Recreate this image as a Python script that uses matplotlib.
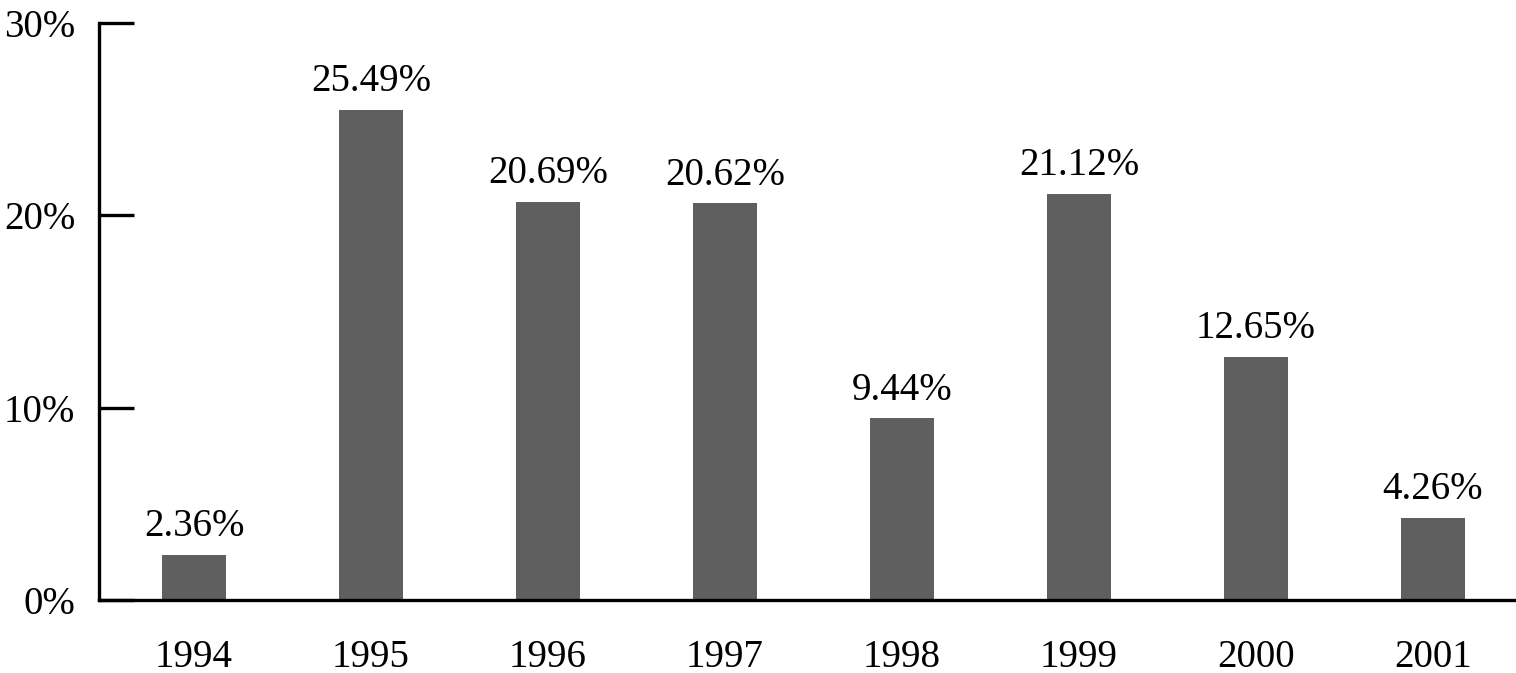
import matplotlib
matplotlib.use('Agg')
import matplotlib.pyplot as plt
from matplotlib.ticker import FuncFormatter

years = ['1994', '1995', '1996', '1997', '1998', '1999', '2000', '2001']
values = [2.36, 25.49, 20.69, 20.62, 9.44, 21.12, 12.65, 4.26]

plt.rcParams['font.family'] = ['Liberation Serif', 'DejaVu Serif']
FS = 28

fig = plt.figure(figsize=(15.16, 6.73), dpi=100)
ax = fig.add_axes([99 / 1516, 1 - 600 / 673, 1 - 99 / 1516, (600 - 23) / 673])

x = list(range(len(years)))
ax.bar(x, values, width=0.36, color='#5f5f5f', zorder=2)

# value labels above the bars
for xi, v in zip(x, values):
    ax.annotate(f'{v:.2f}%', (xi, v), xytext=(0, 7), textcoords='offset points',
                ha='center', va='bottom', fontsize=FS)

ax.set_xlim(-0.537, 7.47)
ax.set_ylim(0, 30)
ax.set_yticks([0, 10, 20, 30])
ax.yaxis.set_major_formatter(FuncFormatter(lambda v, p: f'{v:.0f}%'))
ax.set_xticks(x)
ax.set_xticklabels(years)

for s in ['top', 'right']:
    ax.spines[s].set_visible(False)
for s in ['left', 'bottom']:
    ax.spines[s].set_linewidth(2.4)
    ax.spines[s].set_zorder(3)

ax.tick_params(axis='y', direction='in', length=25, width=2.4, pad=17, labelsize=FS)
ax.tick_params(axis='x', length=0, pad=28, labelsize=FS)

fig.savefig('out.png', dpi=100)
